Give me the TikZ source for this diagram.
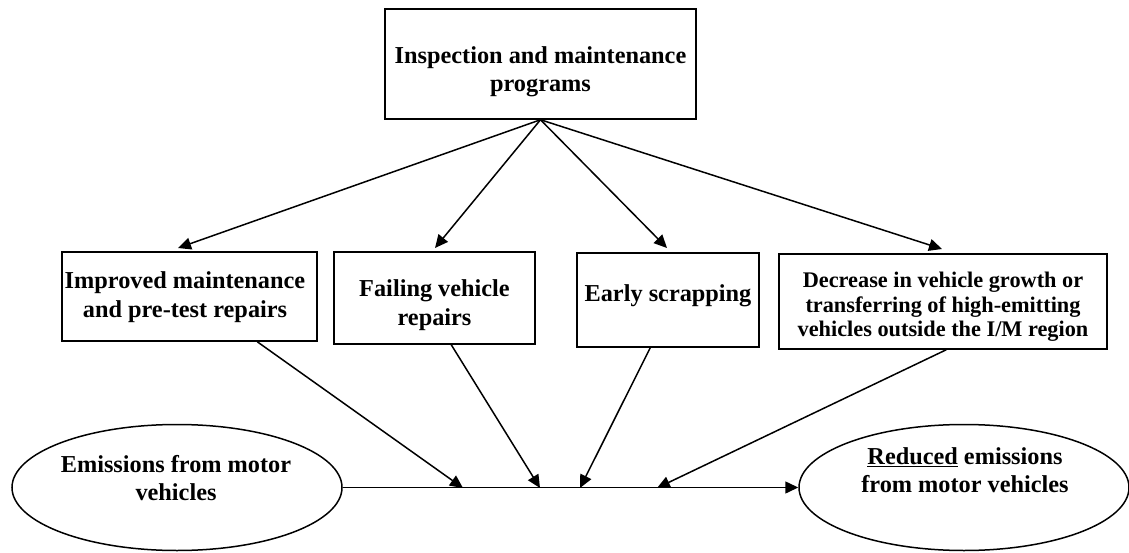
\documentclass[tikz,border=0pt]{standalone}
\usepackage{fontspec}
\setmainfont{Liberation Serif}
\usetikzlibrary{arrows.meta,shapes.geometric,calc}
\begin{document}
\begin{tikzpicture}[x=1pt,y=-1pt,
  every node/.style={align=center, inner sep=0pt},
  big/.style={font=\fontsize{24.3}{28.5}\selectfont\bfseries},
  mid/.style={font=\fontsize{22.3}{24.5}\selectfont\bfseries},
  boxnode/.style={draw, line width=1.5pt, rectangle},
  ellnode/.style={draw, line width=1.5pt, ellipse, minimum width=330pt, minimum height=126pt},
  conn/.style={line width=1.5pt, -{Triangle[length=13pt,width=12pt]}}]
\useasboundingbox (0,0) rectangle (1129,553);
% shapes
\node[boxnode, minimum width=311pt, minimum height=110pt] (top) at (540.5,64) {};
\node[boxnode, minimum width=255pt, minimum height=89pt] (b1) at (189.5,296.5) {};
\node[boxnode, minimum width=201pt, minimum height=92pt] (b2) at (434.5,298) {};
\node[boxnode, minimum width=182pt, minimum height=94pt] (b3) at (668,300) {};
\node[boxnode, minimum width=328pt, minimum height=95pt] (b4) at (943,301.5) {};
\node[ellnode] (e1) at (177,487.5) {};
\node[ellnode] (e2) at (964,487.5) {};
% texts
\node[big] (topt) at (540.5,72) {Inspection and maintenance\\programs};
\node[big] (b1t) at (185,297) {Improved maintenance\\and pre-test repairs};
\node[big] (b2t) at (434.5,305) {Failing vehicle\\repairs};
\node[big] (b3t) at (668,296) {Early scrapping};
\node[mid] (b4t) at (943,307) {Decrease in vehicle growth or\\transferring of high-emitting\\vehicles outside the I/M region};
\node[big] (e1t) at (176,478) {Emissions from motor\\vehicles};
\node[big] (e2t) at (965,470) {\underline{Reduced} emissions\\from motor vehicles};
% arrow tips above boxes
\coordinate (t1) at (178,248);
\coordinate (t2) at (435,248);
\coordinate (t3) at (667,248);
\coordinate (t4) at (942,249);
\draw[conn] (top.south) -- (t1);
\draw[conn] (top.south) -- (t2);
\draw[conn] (top.south) -- (t3);
\draw[conn] (top.south) -- (t4);
% bottom line
\draw[conn] (e1.east) -- (e2.west);
\coordinate (s1) at ($(b1.south west)+(196,0)$);
\coordinate (s2) at ($(b2.south west)+(118,0)$);
\coordinate (s3) at ($(b3.south west)+(74,0)$);
\coordinate (s4) at ($(b4.south west)+(168,0)$);
\coordinate (m1) at (463,488);
\coordinate (m2) at (540,488);
\coordinate (m3) at (580,488);
\coordinate (m4) at (657,488);
\draw[conn] (s1) -- (m1);
\draw[conn] (s2) -- (m2);
\draw[conn] (s3) -- (m3);
\draw[conn] (s4) -- (m4);
\end{tikzpicture}
\end{document}
